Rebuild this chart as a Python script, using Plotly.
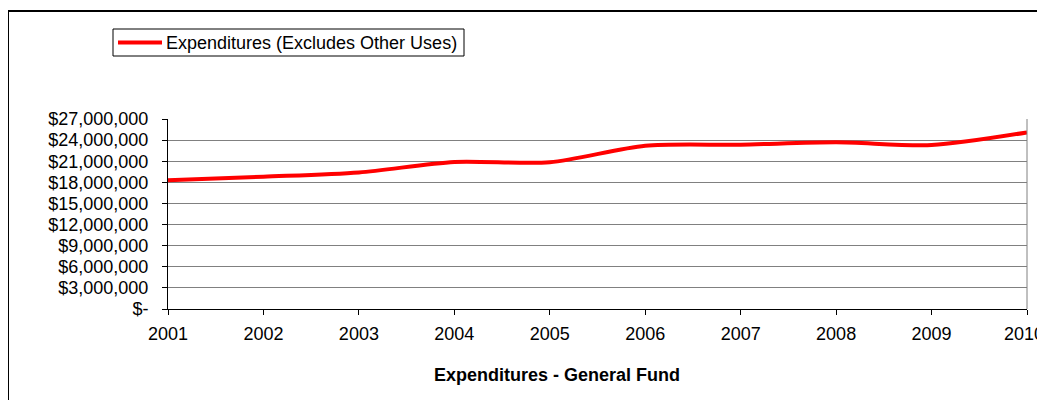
import plotly.graph_objects as go

years = [2001, 2002, 2003, 2004, 2005, 2006, 2007, 2008, 2009, 2010]
expenditures = [18290000, 18800000, 19400000, 20900000, 20850000, 23200000, 23350000, 23700000, 23300000, 25100000]
series_name = "Expenditures (Excludes Other Uses)"
chart_title = "Expenditures - General Fund"
y_tickvals = [0, 3e6, 6e6, 9e6, 12e6, 15e6, 18e6, 21e6, 24e6, 27e6]
y_ticktext = ["$-", "$3,000,000", "$6,000,000", "$9,000,000", "$12,000,000", "$15,000,000",
              "$18,000,000", "$21,000,000", "$24,000,000", "$27,000,000"]

OFF = 8  # page body margin
W, H = 1045 - OFF, 400 - OFF
# plot area in screen pixels: x 168..1027, y 119..309
SL, SR, ST, SB = 168, 1027, 119, 309
L = SL - OFF
T = ST - OFF
R = W - (SR - OFF)
B = H - (SB - OFF)
pw, ph = SR - SL, SB - ST

def px(x):
    return (x - SL) / pw

def py(y):
    return (SB - y) / ph

FONT = "Liberation Sans, Arial, sans-serif"
FS = 18

# last label sits at the very edge of the page; drawn as an annotation kept inside the page
x_ticktext = [str(y) for y in years[:-1]] + [""]

fig = go.Figure()
fig.add_trace(go.Scatter(
    x=years, y=expenditures, mode="lines", name=series_name,
    line=dict(color="#FF0000", width=4, shape="spline", smoothing=0.8),
    showlegend=False,
))

fig.update_layout(
    width=W, height=H,
    margin=dict(l=L, r=R, t=T, b=B),
    paper_bgcolor="white", plot_bgcolor="white",
    font=dict(family=FONT, size=FS, color="black"),
    showlegend=False,
    xaxis=dict(
        range=[2001, 2010], tickvals=years, ticktext=x_ticktext,
        showgrid=False, zeroline=False, showline=True, linecolor="black", linewidth=1,
        ticks="outside", ticklen=5, tickcolor="black",
        ticklabelstandoff=3,
        tickfont=dict(family=FONT, size=FS, color="black"),
    ),
    yaxis=dict(
        range=[0, 27e6], tickvals=y_tickvals, ticktext=y_ticktext,
        showgrid=True, gridcolor="#808080", gridwidth=1, zeroline=False,
        showline=True, linecolor="black", linewidth=1,
        ticks="outside", ticklen=5, tickcolor="black",
        ticklabelstandoff=10,
        tickfont=dict(family=FONT, size=FS, color="black"),
    ),
    shapes=[
        dict(type="line", xref="paper", yref="paper", x0=1, x1=1, y0=0, y1=1,
             line=dict(color="#808080", width=1)),
        dict(type="rect", xref="paper", yref="paper",
             x0=px(8), x1=px(1070), y0=py(11), y1=py(430),
             line=dict(color="black", width=2), layer="below"),
        # legend box
        dict(type="rect", xref="paper", yref="paper",
             x0=px(113), x1=px(464), y0=py(29), y1=py(56),
             line=dict(color="black", width=1), fillcolor="white"),
        dict(type="line", xref="paper", yref="paper",
             x0=px(118), x1=px(162), y0=py(42.5), y1=py(42.5),
             line=dict(color="#FF0000", width=4)),
    ],
    annotations=[
        dict(text=series_name, xref="paper", yref="paper",
             x=px(164), y=py(43), xanchor="left", yanchor="middle",
             showarrow=False, font=dict(family=FONT, size=FS, color="black")),
        dict(text="<b>" + chart_title + "</b>", xref="paper", yref="paper",
             x=px(557), y=py(375), xanchor="center", yanchor="middle",
             showarrow=False, font=dict(family=FONT, size=FS, color="black")),
        dict(text=str(years[-1]), xref="paper", yref="paper",
             x=px(1045), y=py(334), xanchor="right", yanchor="middle",
             showarrow=False, borderpad=0, font=dict(family=FONT, size=FS, color="black")),
    ],
)

fig.write_html("out.html")
